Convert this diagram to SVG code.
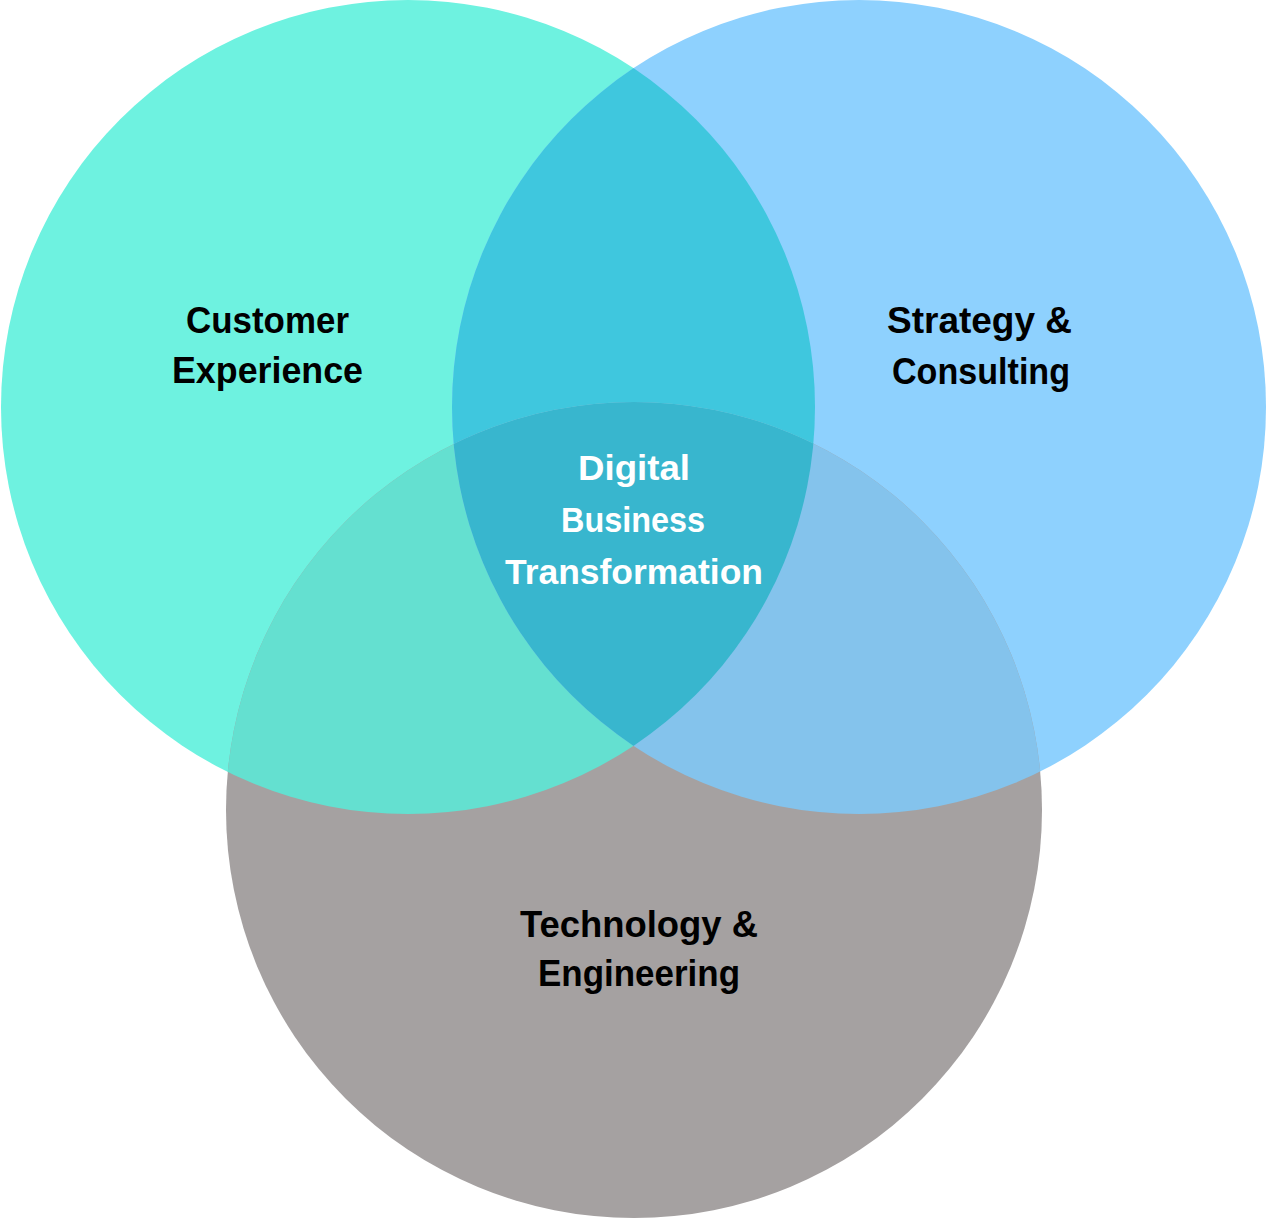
<svg xmlns="http://www.w3.org/2000/svg" width="1268" height="1218" viewBox="0 0 1268 1218">
  <style>
    .lbl { font-family: "Liberation Sans", Arial, sans-serif; font-weight: bold; font-size: 37px; fill: #000000; text-anchor: middle; }
    .ctr { font-family: "Liberation Sans", Arial, sans-serif; font-weight: bold; font-size: 35px; fill: #ffffff; text-anchor: middle; }
  </style>
  <defs>
    <circle id="cL" cx="408" cy="407" r="407"/>
    <circle id="cR" cx="859" cy="407" r="407"/>
    <circle id="cB" cx="634" cy="810" r="408"/>
    <clipPath id="clipL"><use href="#cL"/></clipPath>
    <clipPath id="clipR"><use href="#cR"/></clipPath>
  </defs>
  <rect width="1268" height="1218" fill="#ffffff"/>
  <g id="customer-experience">
    <use href="#cL" fill="#6EF2E0"/>
  </g>
  <g id="strategy-consulting">
    <use href="#cR" fill="#8ED1FE"/>
  </g>
  <g id="technology-engineering">
    <use href="#cB" fill="#A5A1A1"/>
  </g>
  <g id="overlaps">
    <use href="#cR" fill="#3FC7DE" clip-path="url(#clipL)"/>
    <use href="#cB" fill="#64E0D0" clip-path="url(#clipL)"/>
    <use href="#cB" fill="#84C3EC" clip-path="url(#clipR)"/>
    <g clip-path="url(#clipL)">
      <use href="#cB" fill="#38B6CE" clip-path="url(#clipR)"/>
    </g>
  </g>
  <g id="labels">
    <text class="lbl" x="267.5" y="333" textLength="163" lengthAdjust="spacingAndGlyphs">Customer</text>
    <text class="lbl" x="267.5" y="383" textLength="191" lengthAdjust="spacingAndGlyphs">Experience</text>
    <text class="lbl" x="979.5" y="333" textLength="185" lengthAdjust="spacingAndGlyphs">Strategy &amp;</text>
    <text class="lbl" x="981" y="384" textLength="178" lengthAdjust="spacingAndGlyphs">Consulting</text>
    <text class="lbl" x="639" y="937" textLength="238" lengthAdjust="spacingAndGlyphs">Technology &amp;</text>
    <text class="lbl" x="639" y="986" textLength="202" lengthAdjust="spacingAndGlyphs">Engineering</text>
  </g>
  <g id="digital-business-transformation">
    <text class="ctr" x="634" y="480" textLength="112" lengthAdjust="spacingAndGlyphs">Digital</text>
    <text class="ctr" x="633" y="532" textLength="144" lengthAdjust="spacingAndGlyphs">Business</text>
    <text class="ctr" x="634" y="584" textLength="258" lengthAdjust="spacingAndGlyphs">Transformation</text>
  </g>
</svg>
